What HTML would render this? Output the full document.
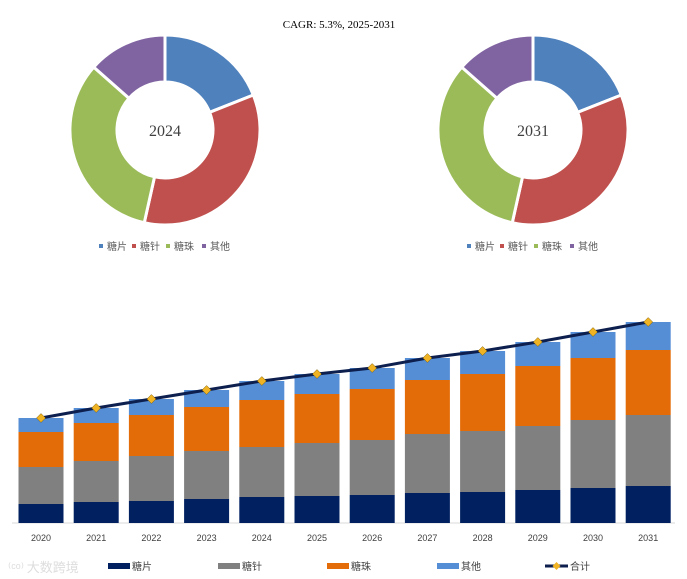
<!DOCTYPE html>
<html><head><meta charset="utf-8"><style>
body{margin:0;background:#fff;}
svg{display:block;font-family:"Liberation Sans","Noto Sans CJK SC",sans-serif;}
</style></head><body>
<svg id="c" width="687" height="579" viewBox="0 0 687 579">
<text x="339" y="28" text-anchor="middle" font-family="Liberation Serif, serif" font-size="11" fill="#000">CAGR: 5.3%, 2025-2031</text>
<g id="donuts"></g>
<g id="bars"></g>
<text x="8" y="572" font-size="13" fill="#ddd" font-family="Noto Sans CJK SC, sans-serif">⁽ᶜᵒ⁾ 大数跨境</text>
</svg>
<script>
const categories = ["糖片","糖针","糖珠","其他"];
const colorsPie = ["#4f81bd","#c0504d","#9bbb59","#8064a2"];
const share2024 = [0.19,0.345,0.33,0.135];
const share2031 = [0.19,0.345,0.33,0.135];
const years = ["2020","2021","2022","2023","2024","2025","2026","2027","2028","2029","2030","2031"];
const seriesTablet = [19,21,22,24,26,27,28,30,31,33,35,37];
const seriesNeedle = [37,41,45,48,50,53,55,59,61,64,68,71];
const seriesBead = [35,38,41,44,47,49,51,54,57,60,62,65];
const seriesOther = [14,15,16,17,19,20,21,22,23,24,26,28];
const barColors = ["#002060","#808080","#e36c09","#558ed5"];
const NS="http://www.w3.org/2000/svg";
function mk(t,a,p){const e=document.createElementNS(NS,t);for(const k in a)e.setAttribute(k,a[k]);p.appendChild(e);return e;}
const dg=document.getElementById('donuts');
function donut(cx,cy,shares,label){
  const R=95,r=48;let a0=0;
  shares.forEach((s,i)=>{
    const a1=a0+s*2*Math.PI;
    const p=(a,rr)=>[cx+rr*Math.sin(a),cy-rr*Math.cos(a)];
    const [x0,y0]=p(a0,R),[x1,y1]=p(a1,R),[x2,y2]=p(a1,r),[x3,y3]=p(a0,r);
    const lg=(a1-a0)>Math.PI?1:0;
    const e=mk('path',{d:`M${x0},${y0}A${R},${R} 0 ${lg} 1 ${x1},${y1}L${x2},${y2}A${r},${r} 0 ${lg} 0 ${x3},${y3}Z`,fill:colorsPie[i],stroke:'#fff','stroke-width':3},dg);
    
    
    a0=a1;
  });
  const t=mk('text',{x:cx,y:cy+6,'text-anchor':'middle','font-size':16,'font-family':'Liberation Serif, serif',fill:'#404040'},dg);
  t.textContent=label;
  
  
  const lx=[cx-66,cx-33,cx+1,cx+37];
  categories.forEach((c,i)=>{
    const g=mk('g',{},dg);
    
    
    mk('rect',{x:lx[i],y:244,width:4,height:4,fill:colorsPie[i]},g);
    const tt=mk('text',{x:lx[i]+8,y:250,'font-size':10,fill:'#595959'},g);tt.textContent=c;
  });
}
donut(165,130,share2024,"2024");
donut(533,130,share2031,"2031");
const bg=document.getElementById('bars');
const base=523,x0=41,step=55.2,bw=45;
const X=i=>x0+i*step;
const Y=v=>base-v;
mk('line',{x1:12,x2:675,y1:base,y2:base,stroke:'#d9d9d9'},bg);
const series=[seriesTablet,seriesNeedle,seriesBead,seriesOther];
const totals=years.map((y,i)=>series.reduce((s,a)=>s+a[i],0));
years.forEach((yr,i)=>{
  let acc=0;
  series.forEach((s,k)=>{
    const r=mk('rect',{x:X(i)-bw/2,y:Y(acc+s[i]),width:bw,height:s[i],fill:barColors[k]},bg);
    
    
    acc+=s[i];
  });
  const t=mk('text',{x:X(i),y:541,'text-anchor':'middle','font-size':9,fill:'#404040'},bg);
  t.textContent=yr;
  
  
});
const line=mk('polyline',{points:totals.map((v,i)=>X(i)+','+Y(v)).join(' '),fill:'none',stroke:'#0d1f4e','stroke-width':3},bg);


totals.forEach((v,i)=>{
  const m=mk('path',{d:`M${X(i)},${Y(v)-4.5}l4.5,4.5l-4.5,4.5l-4.5,-4.5Z`,fill:'#f0b323',stroke:'#7a5a00','stroke-width':0.5},bg);
  
  
});
const legX=[108,218,327,437];
const lab=["糖片","糖针","糖珠","其他"];
lab.forEach((c,i)=>{
  const g=mk('g',{},bg);
  
  
  mk('rect',{x:legX[i],y:563,width:22,height:6,fill:barColors[i]},g);
  const t=mk('text',{x:legX[i]+24,y:570,'font-size':10,fill:'#404040'},g);t.textContent=c;
});
const g=mk('g',{},bg);


mk('line',{x1:545,x2:568,y1:566,y2:566,stroke:'#0d1f4e','stroke-width':3},g);
mk('path',{d:'M556.5,562l4,4l-4,4l-4,-4Z',fill:'#f0b323'},g);
const tt=mk('text',{x:570,y:570,'font-size':10,fill:'#404040'},g);tt.textContent="合计";
</script>
</body></html>
